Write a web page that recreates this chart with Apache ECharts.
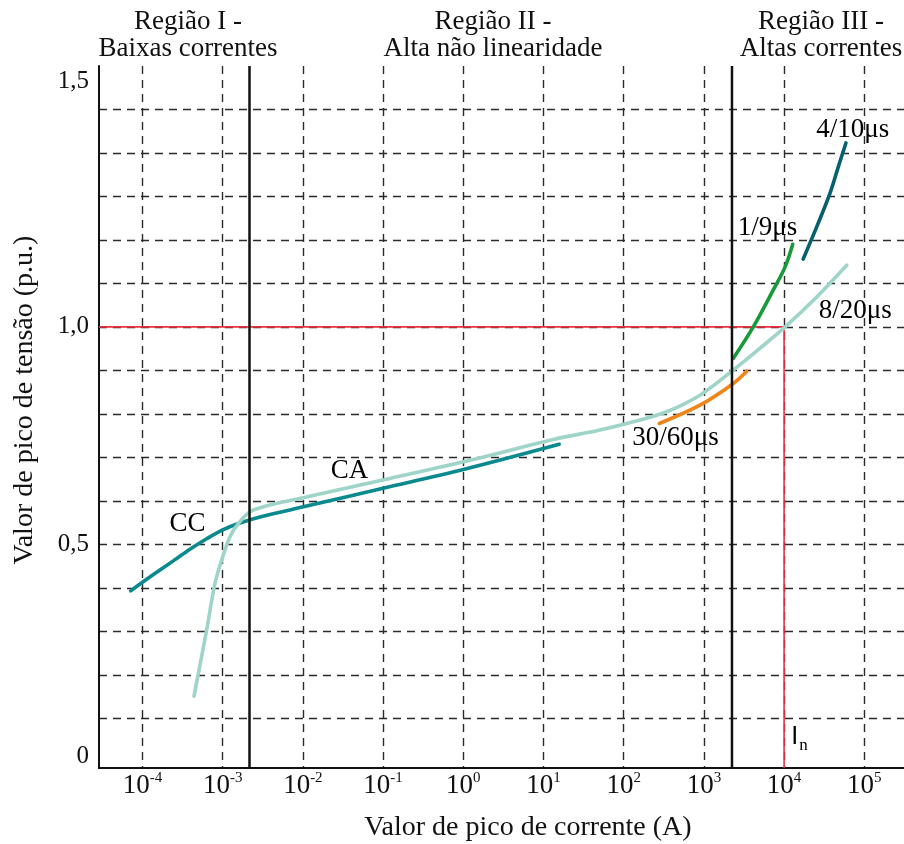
<!DOCTYPE html>
<html><head><meta charset="utf-8">
<script src="https://cdn.jsdelivr.net/npm/echarts@6/dist/echarts.min.js"></script>
<style>html,body{margin:0;padding:0;background:#fff}#c{width:904px;height:844px}</style>
</head><body><div id="c"></div>
<script>
const FONT = '"Liberation Serif", "Times New Roman", serif';

// Curve CC (corrente contínua): peak current (A) / peak voltage (p.u.)
const ccCurrent = [7.13e-5, 1.02e-4, 1.65e-4, 2.42e-4, 3.91e-4, 6.31e-4, 1.02e-3, 1.64e-3, 2.92e-3, 1.11e-2, 0.100, 1.0, 15.7];
const ccVoltage = [0.393, 0.414, 0.441, 0.462, 0.489, 0.513, 0.534, 0.549, 0.563, 0.588, 0.629, 0.672, 0.730];
// Curve CA continuing as 8/20 µs
const caCurrent = [4.39e-4, 6.31e-4, 8.02e-4, 9.72e-4, 1.23e-3, 1.57e-3, 2.41e-3, 1.11e-2, 0.100, 1.33, 13.2, 50.6, 132, 344, 893, 2330, 5010, 1.03e4, 2.55e4, 6.04e4];
const caVoltage = [0.151, 0.303, 0.410, 0.464, 0.517, 0.548, 0.579, 0.609, 0.648, 0.695, 0.741, 0.763, 0.782, 0.805, 0.843, 0.901, 0.951, 1.000, 1.069, 1.142];
// 1/9 µs
const g19Current = [2330, 4130, 7330, 1.03e4, 1.28e4];
const g19Voltage = [0.928, 1.000, 1.085, 1.138, 1.190];
// 4/10 µs
const g410Current = [1.73e4, 2.55e4, 3.73e4, 4.74e4, 5.9e4];
const g410Voltage = [1.156, 1.230, 1.307, 1.368, 1.423];
// 30/60 µs
const g3060Current = [278, 893, 2330, 3420];
const g3060Voltage = [0.778, 0.820, 0.870, 0.898];

// Annotations
const labelTexts = ['CC', 'CA', '1/9μs', '4/10μs', '8/20μs', '30/60μs'];
const labelCurrent = [3.7e-4, 0.0386, 6300, 7.3e4, 7.8e4, 449];
const labelVoltage = [0.547, 0.667, 1.226, 1.452, 1.035, 0.744];
const inLabelPos = [1.58e4, 0.050];

// Region boundaries, rated current and reference voltage
const regionBounds = [2.16e-3, 2.24e3];
const regionTitles = ['Região I -\nBaixas correntes', 'Região II -\nAlta não linearidade', 'Região III -\nAltas correntes'];
const ratedCurrent = 1e4;
const refVoltage = 1.0;

// Axes
const xMin = Math.pow(10, -4.542), xMax = Math.pow(10, 5.495);
const yMin = -0.0143, yMax = 1.6;
const xTickValues = [1e-4, 1e-3, 1e-2, 1e-1, 1, 10, 100, 1000, 1e4, 1e5];
const yGridValues = [0.1, 0.2, 0.3, 0.4, 0.5, 0.6, 0.7, 0.8, 0.9, 1.0, 1.1, 1.2, 1.3, 1.4, 1.5];
const yLabelValues = [0.012, 0.5, 1.0, 1.565];
const yLabelTexts = ['0', '0,5', '1,0', '1,5'];

const zip = (a, b) => a.map((v, i) => [v, b[i]]);
const dash = { type: [8, 6], color: '#2a2a2a', width: 1.4 };

const chart = echarts.init(document.getElementById('c'), null, { renderer: 'canvas' });
const curve = (name, xs, ys, color) => ({
  name, type: 'line', data: zip(xs, ys), smooth: 0.35, symbol: 'none',
  lineStyle: { color, width: 3.6, cap: 'round' }, z: 4, silent: true
});

const boundarySeries = regionBounds.map((b, i) => ({
  name: 'limite' + (i + 1), type: 'line', symbol: 'none', silent: true, z: 5,
  data: [[b, yMin], [b, yMax]],
  lineStyle: { color: '#111', width: 2.5 }
}));

const titleText = (text, x) => ({
  type: 'text', x, y: 8,
  style: { text, fontSize: 27, fontFamily: FONT, fill: '#111', align: 'center', textAlign: 'center', lineHeight: 27 }
});

chart.setOption({
  animation: false,
  backgroundColor: '#fff',
  grid: { left: 99, right: 0, top: 66, bottom: 76, containLabel: false },
  xAxis: {
    type: 'log', logBase: 10, min: xMin, max: xMax,
    axisLine: { show: true, onZero: false, lineStyle: { color: '#111', width: 2 } },
    axisTick: { show: false, customValues: xTickValues },
    minorTick: { show: false },
    axisLabel: {
      customValues: xTickValues, margin: 3, color: '#111',
      formatter: v => '10{sup|' + Math.round(Math.log10(v)) + '}',
      rich: {
        sup: { fontSize: 15, fontFamily: FONT, color: '#111', verticalAlign: 'top', lineHeight: 14 }
      },
      fontSize: 27, fontFamily: FONT, lineHeight: 30
    },
    splitLine: { show: true, lineStyle: dash }
  },
  yAxis: {
    type: 'value', min: yMin, max: yMax,
    axisLine: { show: true, onZero: false, lineStyle: { color: '#111', width: 2 } },
    axisTick: { show: false, customValues: yGridValues },
    axisLabel: {
      customValues: yLabelValues, margin: 10, color: '#111', fontSize: 25, fontFamily: FONT,
      formatter: v => {
        let best = 0;
        yLabelValues.forEach((t, i) => { if (Math.abs(t - v) < Math.abs(yLabelValues[best] - v)) best = i; });
        return yLabelTexts[best];
      }
    },
    splitLine: { show: true, lineStyle: dash }
  },
  graphic: [
    titleText(regionTitles[0], 188),
    titleText(regionTitles[1], 493),
    titleText(regionTitles[2], 821),
    { type: 'text', x: 528, y: 828, style: { text: 'Valor de pico de corrente (A)', fontSize: 28, fontFamily: FONT, fill: '#111', align: 'center', textAlign: 'center', verticalAlign: 'middle', textVerticalAlign: 'middle' } },
    { type: 'text', x: 25, y: 400, rotation: Math.PI / 2, style: { text: 'Valor de pico de tensão (p.u.)', fontSize: 28, fontFamily: FONT, fill: '#111', align: 'center', textAlign: 'center', verticalAlign: 'middle', textVerticalAlign: 'middle' } }
  ],
  series: [
    {
      name: 'ref', type: 'line', symbol: 'none', silent: true, z: 2,
      data: [[xMin, refVoltage], [ratedCurrent, refVoltage], [ratedCurrent, yMin]],
      lineStyle: { color: '#e8323f', width: 1.6 }
    },
    ...boundarySeries,
    curve('CC', ccCurrent, ccVoltage, '#0a8a8e'),
    curve('CA / 8/20μs', caCurrent, caVoltage, '#9fd4c9'),
    curve('30/60μs', g3060Current, g3060Voltage, '#ef8519'),
    curve('1/9μs', g19Current, g19Voltage, '#169a3a'),
    curve('4/10μs', g410Current, g410Voltage, '#08606f'),
    {
      name: 'labels', type: 'scatter', symbolSize: 1, silent: true, z: 6,
      itemStyle: { opacity: 0 },
      data: labelTexts.map((t, i) => ({ name: t, value: [labelCurrent[i], labelVoltage[i]] })),
      label: { show: true, position: [0, 0], align: 'center', verticalAlign: 'middle', opacity: 1, formatter: '{b}', color: '#000', fontSize: 27, fontFamily: FONT }
    },
    {
      name: 'In', type: 'scatter', symbolSize: 1, silent: true, z: 6,
      itemStyle: { opacity: 0 },
      data: [{ name: 'In', value: inLabelPos }],
      label: {
        show: true, position: [0, 0], align: 'center', verticalAlign: 'middle', opacity: 1, formatter: '{a|I}{b|n}',
        rich: {
          a: { fontSize: 25, fontFamily: '"Liberation Sans", sans-serif', color: '#000', verticalAlign: 'top' },
          b: { fontSize: 17, fontFamily: FONT, color: '#000', verticalAlign: 'bottom', padding: [12, 0, 0, 1] }
        }
      }
    }
  ]
});
</script></body></html>
